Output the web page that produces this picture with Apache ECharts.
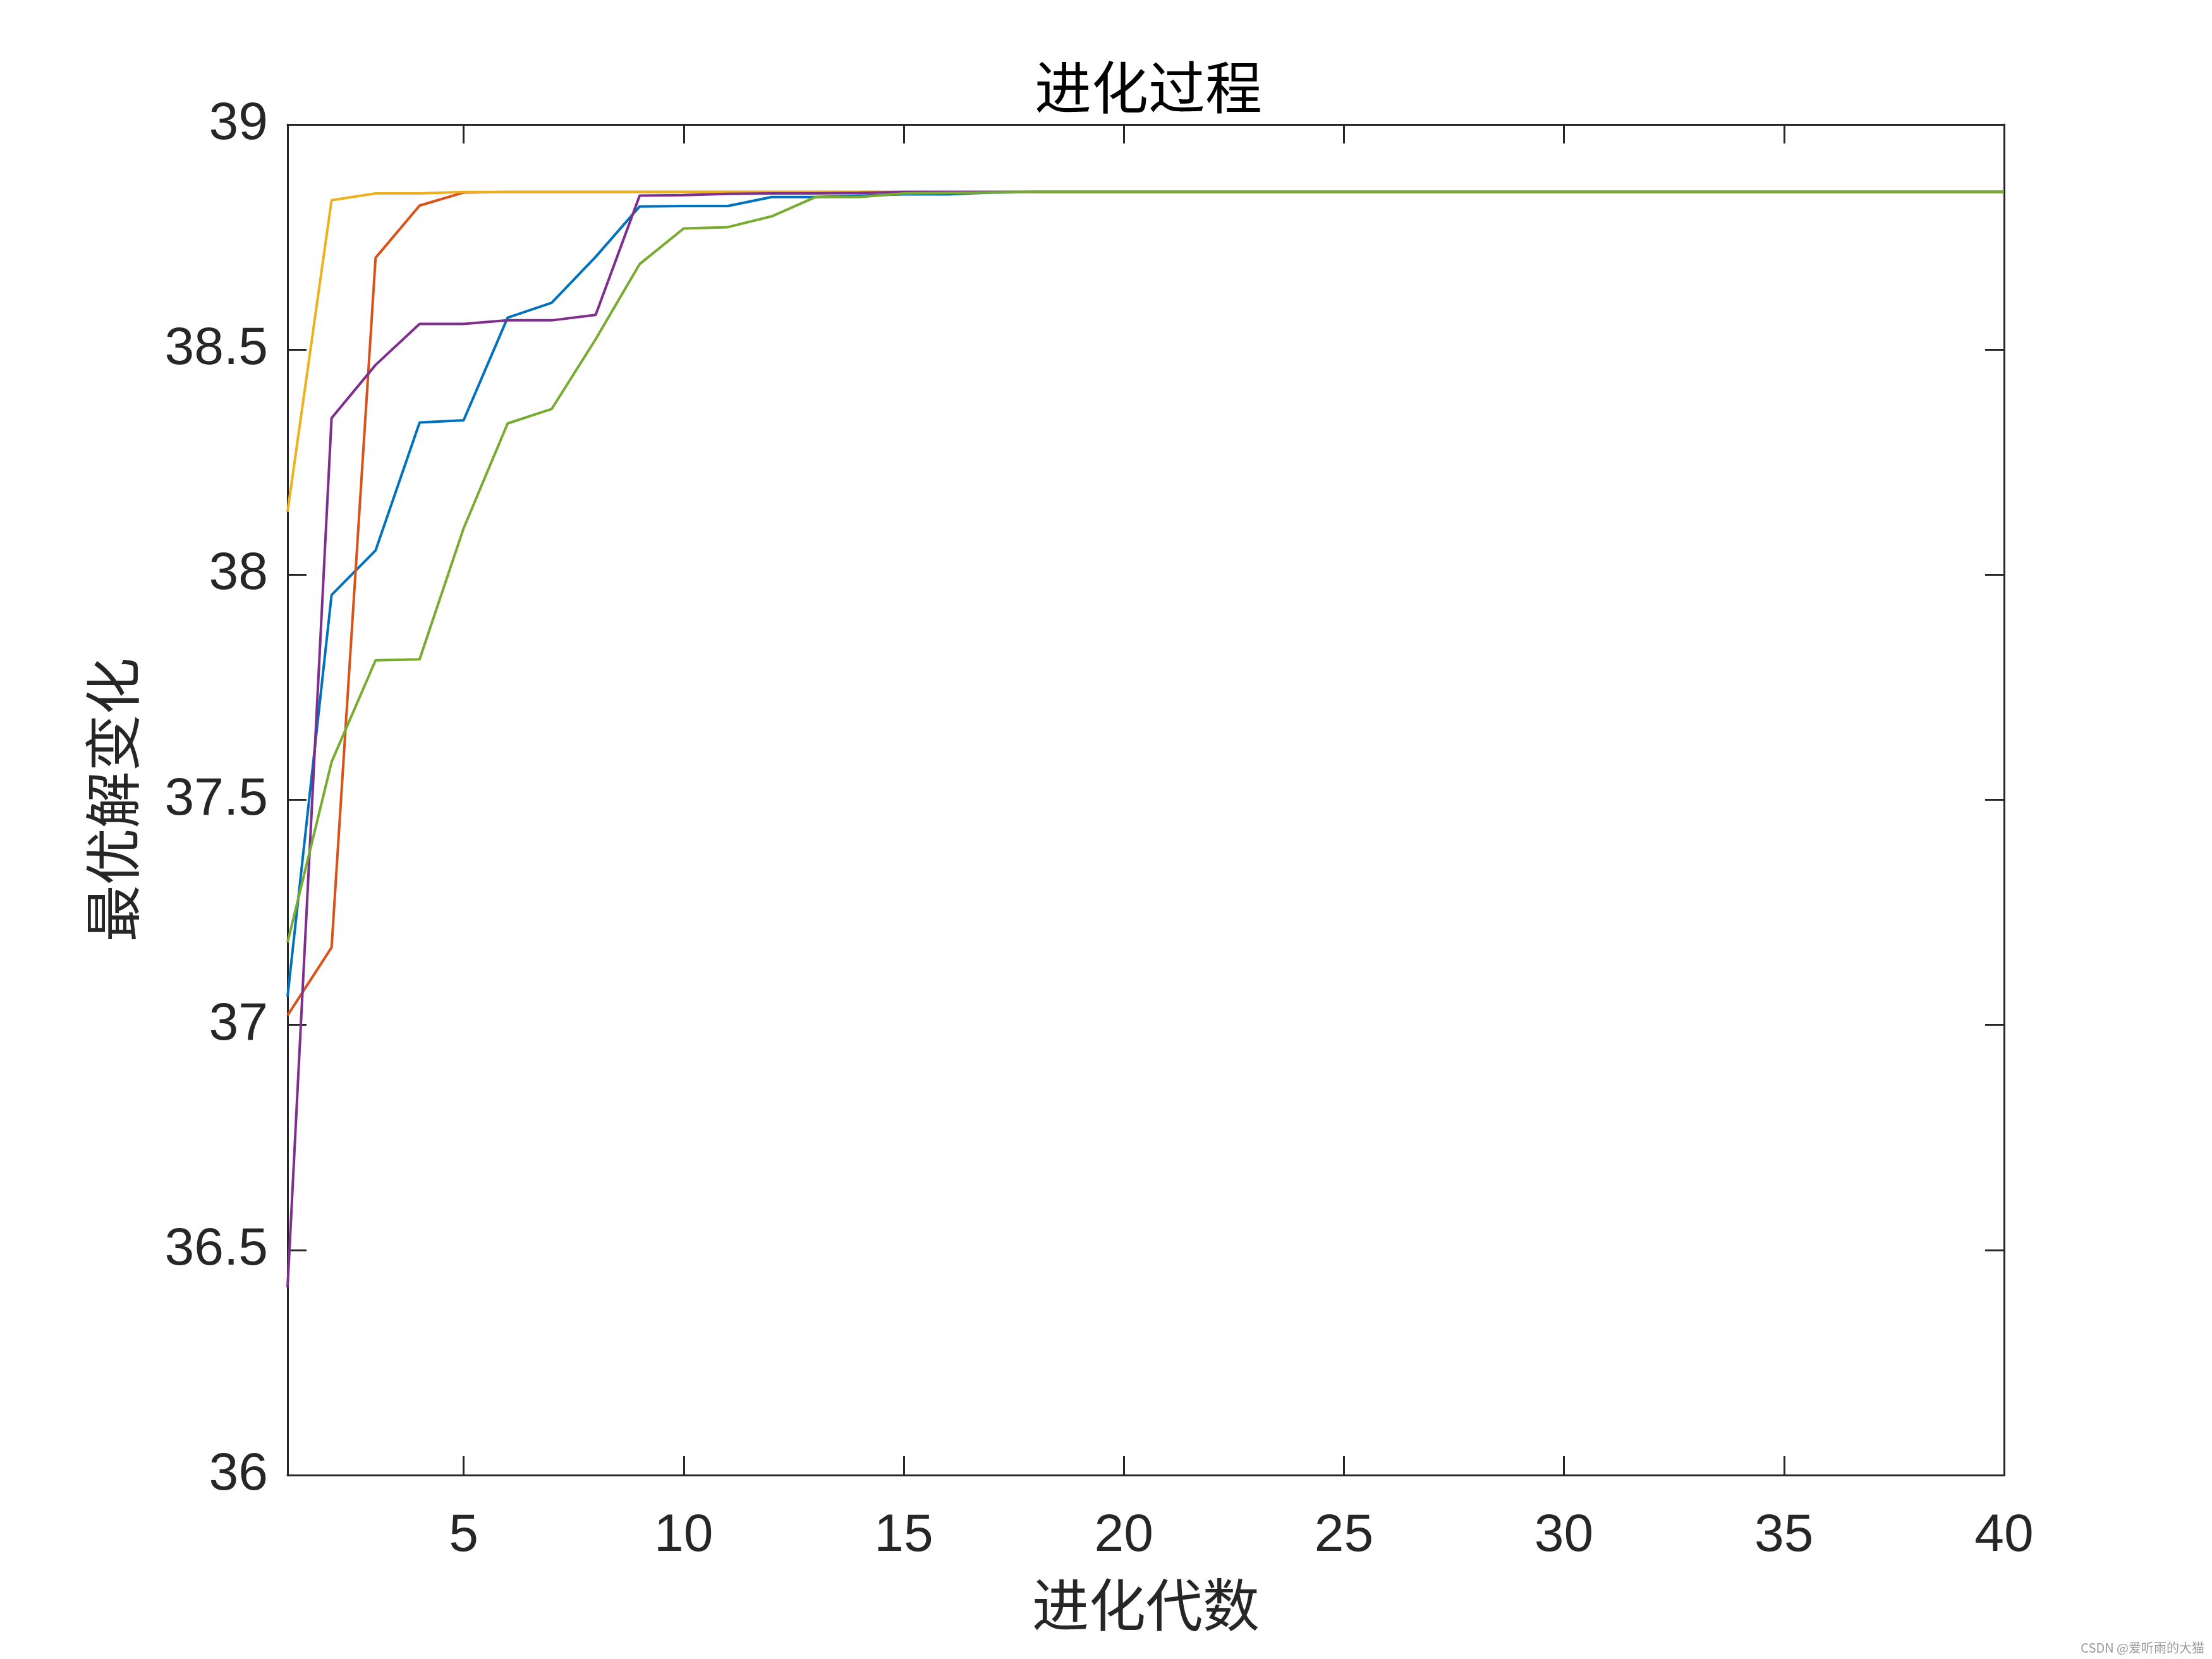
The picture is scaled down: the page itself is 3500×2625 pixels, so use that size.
<!DOCTYPE html>
<html>
<head>
<meta charset="utf-8">
<script src="https://cdn.jsdelivr.net/npm/echarts@6/dist/echarts.min.js"></script>
<style>
html,body{margin:0;padding:0;background:#fff;}
#c{width:3500px;height:2625px;}
</style>
</head>
<body>
<div id="c"></div>
<script>
// generation index 1..40
const generations = [1,2,3,4,5,6,7,8,9,10,11,12,13,14,15,16,17,18,19,20,21,22,23,24,25,26,27,28,29,30,31,32,33,34,35,36,37,38,39,40];
const xTickValues = [5,10,15,20,25,30,35,40];
const yTickValues = [36,36.5,37,37.5,38,38.5,39];

const run1 = [37.063,37.955,38.054,38.338,38.343,38.571,38.604,38.706,38.818,38.819,38.819,38.839,38.839,38.842,38.845,38.845,38.849,38.85,38.85,38.85,38.85,38.85,38.85,38.85,38.85,38.85,38.85,38.85,38.85,38.85,38.85,38.85,38.85,38.85,38.85,38.85,38.85,38.85,38.85,38.85];
const run2 = [37.021,37.172,38.704,38.820,38.849,38.85,38.85,38.85,38.85,38.85,38.85,38.85,38.85,38.85,38.85,38.85,38.85,38.85,38.85,38.85,38.85,38.85,38.85,38.85,38.85,38.85,38.85,38.85,38.85,38.85,38.85,38.85,38.85,38.85,38.85,38.85,38.85,38.85,38.85,38.85];
const run3 = [38.140,38.832,38.847,38.847,38.85,38.85,38.85,38.85,38.85,38.85,38.85,38.85,38.85,38.85,38.85,38.85,38.85,38.85,38.85,38.85,38.85,38.85,38.85,38.85,38.85,38.85,38.85,38.85,38.85,38.85,38.85,38.85,38.85,38.85,38.85,38.85,38.85,38.85,38.85,38.85];
const run4 = [36.417,38.348,38.466,38.557,38.557,38.565,38.565,38.577,38.842,38.843,38.846,38.847,38.847,38.848,38.85,38.85,38.85,38.85,38.85,38.85,38.85,38.85,38.85,38.85,38.85,38.85,38.85,38.85,38.85,38.85,38.85,38.85,38.85,38.85,38.85,38.85,38.85,38.85,38.85,38.85];
const run5 = [37.183,37.584,37.810,37.812,38.103,38.336,38.368,38.523,38.690,38.769,38.772,38.796,38.839,38.839,38.847,38.848,38.849,38.85,38.85,38.85,38.85,38.85,38.85,38.85,38.85,38.85,38.85,38.85,38.85,38.85,38.85,38.85,38.85,38.85,38.85,38.85,38.85,38.85,38.85,38.85];

const runs = [run1, run2, run3, run4, run5];
const colors = ['#0072BD','#D95319','#EDB120','#7E2F8E','#77AC30'];

const axisColor = '#262626';
const cjkFont = '"Noto Sans CJK SC", sans-serif';
const numFont = '"Liberation Sans", Arial, sans-serif';

function pairs(arr){ return generations.map((g,i)=>[g, arr[i]]); }

const baseLine = {show:true, lineStyle:{color:axisColor, width:3}};
const tickLine = {color:axisColor, width:3};

const chart = echarts.init(document.getElementById('c'), null, {renderer:'canvas'});
chart.setOption({
  animation:false,
  backgroundColor:'#fff',
  title:{
    text:'进化过程',
    left:1632,
    top:88,
    textStyle:{fontFamily:cjkFont, fontSize:90, fontWeight:'normal', color:'#000'}
  },
  grid:{left:455, right:329, top:197, bottom:291, containLabel:false},
  xAxis:[
    {
      type:'value', min:1, max:40, position:'bottom',
      name:'进化代数', nameLocation:'middle', nameGap:160,
      nameTextStyle:{fontFamily:cjkFont, fontSize:90, color:axisColor},
      axisLine:baseLine,
      axisTick:{show:true, inside:true, length:30, customValues:xTickValues, lineStyle:tickLine},
      axisLabel:{show:true, customValues:xTickValues, fontFamily:numFont, fontSize:84, color:axisColor, margin:55},
      splitLine:{show:false}
    },
    {
      type:'value', min:1, max:40, position:'top',
      axisLine:baseLine,
      axisTick:{show:true, inside:true, length:30, customValues:xTickValues, lineStyle:tickLine},
      axisLabel:{show:false},
      splitLine:{show:false}
    }
  ],
  yAxis:[
    {
      type:'value', min:36, max:39, interval:0.5, position:'left',
      name:'最优解变化', nameLocation:'middle', nameGap:232, nameRotate:90,
      nameTextStyle:{fontFamily:cjkFont, fontSize:90, color:axisColor},
      axisLine:baseLine,
      axisTick:{show:true, inside:true, length:30, lineStyle:tickLine},
      axisLabel:{show:true, fontFamily:numFont, fontSize:84, color:axisColor, margin:31,
        formatter:function(v){ return String(+v.toFixed(1)); }},
      splitLine:{show:false}
    },
    {
      type:'value', min:36, max:39, interval:0.5, position:'right',
      axisLine:baseLine,
      axisTick:{show:true, inside:true, length:30, lineStyle:tickLine},
      axisLabel:{show:false},
      splitLine:{show:false}
    }
  ],
  graphic:[{
    type:'text', right:12, bottom:8,
    style:{text:'CSDN @爱听雨的大猫', fontFamily:cjkFont, fontSize:20, fill:'#9a9a9a'}
  }],
  series: runs.map((r,i)=>({
    type:'line',
    data:pairs(r),
    xAxisIndex:0, yAxisIndex:0,
    showSymbol:false, symbol:'none',
    lineStyle:{color:colors[i], width:4},
    itemStyle:{color:colors[i]},
    z:2+i
  }))
});
</script>
</body>
</html>
